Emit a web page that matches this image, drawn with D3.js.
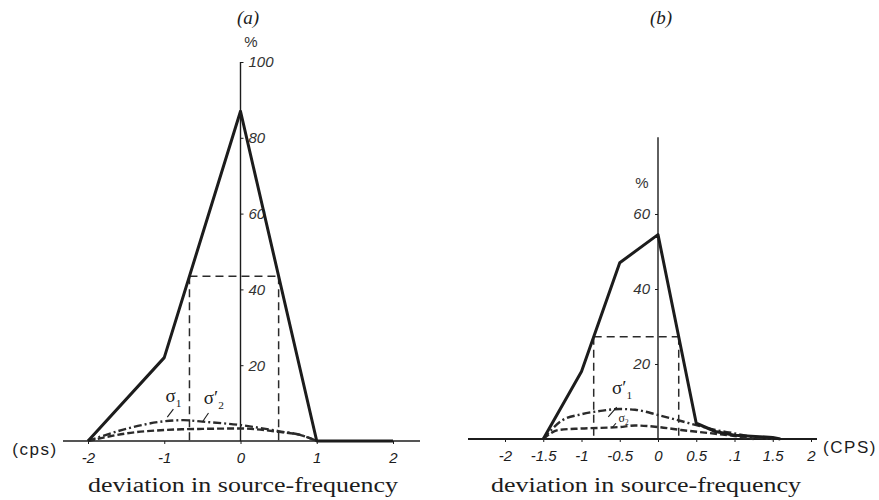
<!DOCTYPE html>
<html>
<head>
<meta charset="utf-8">
<script src="https://cdn.jsdelivr.net/npm/d3@7"></script>
<style>
  body { margin: 0; background: #fff; }
  svg { display: block; }
</style>
</head>
<body>
<svg id="chart" width="879" height="500"></svg>
<script>
// ---------- Panel (a) ----------
const mainAX = [-2, -1, 0, 1, 1.5, 2];
const mainAY = [0, 22, 87, 0, 0, 0];
const sigAX = [-2, -1.5, -1, -0.75, -0.5, 0, 0.5, 0.8, 1];
const sig1AY = [0, 3.2, 5.2, 5.5, 5.1, 4.2, 2.6, 1.5, 0];
const sig2AY = [0, 2.0, 2.9, 3.1, 3.2, 3.3, 2.4, 1.5, 0];
const tickAX = [-2, -1, 0, 1, 2];
const tickAXLabels = ["-2", "-1", "0", "1", "2"];
const tickAY = [20, 40, 60, 80, 100];

// ---------- Panel (b) ----------
const mainBX = [-1.5, -1, -0.5, 0, 0.5, 0.75, 1, 1.5, 1.6];
const mainBY = [0, 18, 47, 54.5, 4.2, 2, 1, 0.4, 0];
const sig1BX = [-1.5, -1.25, -1, -0.75, -0.5, -0.3, 0, 0.3, 0.5, 0.75, 1, 1.25, 1.5];
const sig1BY = [0, 5.0, 6.6, 7.5, 8.0, 7.8, 6.4, 4.8, 3.7, 2.4, 1.5, 0.5, 0];
const sig2BX = [-1.5, -1.3, -1, -0.5, -0.3, 0, 0.3, 0.75, 1, 1.25];
const sig2BY = [0, 2.4, 2.8, 3.2, 3.6, 3.2, 2.4, 1.4, 0.8, 0];
const tickBX = [-2, -1.5, -1, -0.5, 0, 0.5, 1, 1.5, 2];
const tickBXLabels = ["-2", "-1.5", "-1", "-0.5", "0", "0.5", ".1", "1.5", "2"];
const tickBY = [20, 40, 60];

const svg = d3.select("#chart");
const ink = "#1c1c1c";
const handFont = "'Liberation Sans', Arial, sans-serif";
const serifFont = "'Liberation Serif', 'DejaVu Serif', serif";

const zip = (xs, ys) => xs.map((x, i) => [x, ys[i]]);

// find where a polyline crosses a level
function crossings(xs, ys, level) {
  const out = [];
  for (let i = 0; i < xs.length - 1; i++) {
    const a = ys[i], b = ys[i + 1];
    if ((a - level) * (b - level) < 0) {
      const t = (level - a) / (b - a);
      out.push(xs[i] + t * (xs[i + 1] - xs[i]));
    }
  }
  return out;
}

function panel(cfg) {
  const { x, y } = cfg;
  const g = svg.append("g");

  // baseline
  g.append("line")
    .attr("x1", cfg.baseFrom).attr("x2", cfg.baseTo)
    .attr("y1", y(0)).attr("y2", y(0))
    .attr("stroke", ink).attr("stroke-width", cfg.baseWidth);

  // vertical axis
  g.append("line")
    .attr("x1", x(0)).attr("x2", x(0))
    .attr("y1", y(0)).attr("y2", y(cfg.yTop))
    .attr("stroke", ink).attr("stroke-width", 1.4);

  // x ticks and labels
  const xAxis = d3.axisBottom(x)
    .tickValues(cfg.xTicks)
    .tickFormat((d, i) => cfg.xLabels[i])
    .tickSize(3).tickPadding(8).tickSizeOuter(0);
  const gx = g.append("g").attr("transform", `translate(0,${y(0)})`).call(xAxis);
  gx.select(".domain").remove();
  gx.selectAll("line").attr("stroke", ink);
  gx.selectAll("text")
    .attr("font-family", handFont).attr("font-style", "italic")
    .attr("font-size", 15).attr("fill", ink);

  // y ticks and labels
  const yAxis = (cfg.yRight ? d3.axisRight(y) : d3.axisLeft(y))
    .tickValues(cfg.yTicks).tickSize(3).tickPadding(5).tickSizeOuter(0);
  const gy = g.append("g").attr("transform", `translate(${x(0)},0)`).call(yAxis);
  gy.select(".domain").remove();
  gy.selectAll("line").attr("stroke", ink);
  gy.selectAll("text")
    .attr("font-family", handFont).attr("font-style", "italic")
    .attr("font-size", 15).attr("fill", "#333");

  // percent sign
  g.append("text")
    .attr("x", cfg.pctX).attr("y", y(cfg.pctAt))
    .attr("text-anchor", "middle").attr("dominant-baseline", "middle")
    .attr("font-family", handFont).attr("font-size", 15).attr("fill", "#333")
    .text("%");

  // half-maximum construction lines
  const peak = d3.max(cfg.mainY);
  const half = peak / 2;
  const cx = crossings(cfg.mainX, cfg.mainY, half);
  const xl = cx[0], xr = cx[cx.length - 1];
  const dash = g.append("g").attr("stroke", "#2a2a2a").attr("stroke-width", 1.5)
    .attr("stroke-dasharray", "8,5").attr("fill", "none");
  dash.append("line").attr("x1", x(xl)).attr("x2", x(xr)).attr("y1", y(half)).attr("y2", y(half));
  dash.append("line").attr("x1", x(xl)).attr("x2", x(xl)).attr("y1", y(half)).attr("y2", y(0));
  dash.append("line").attr("x1", x(xr)).attr("x2", x(xr)).attr("y1", y(half)).attr("y2", y(0));

  // sigma curves
  const smooth = d3.line().x(d => x(d[0])).y(d => y(d[1])).curve(d3.curveMonotoneX);
  g.append("path").datum(zip(cfg.s2X, cfg.s2Y))
    .attr("d", smooth).attr("fill", "none").attr("stroke", "#2b2b2b")
    .attr("stroke-width", 2.4).attr("stroke-dasharray", "7,3");
  g.append("path").datum(zip(cfg.s1X, cfg.s1Y))
    .attr("d", smooth).attr("fill", "none").attr("stroke", "#2b2b2b")
    .attr("stroke-width", 2.4).attr("stroke-dasharray", "8,3,2,3");

  // main distribution
  const poly = d3.line().x(d => x(d[0])).y(d => y(d[1]));
  g.append("path").datum(zip(cfg.mainX, cfg.mainY))
    .attr("d", poly).attr("fill", "none").attr("stroke", ink)
    .attr("stroke-width", 3).attr("stroke-linejoin", "round");

  // sigma labels with leaders
  cfg.sigmaLabels.forEach(s => {
    g.append("line")
      .attr("x1", x(s.from[0])).attr("y1", y(s.from[1]))
      .attr("x2", x(s.to[0])).attr("y2", y(s.to[1]))
      .attr("stroke", ink).attr("stroke-width", 1.1);
    const t = g.append("text")
      .attr("x", x(s.at[0])).attr("y", y(s.at[1]))
      .attr("text-anchor", "middle")
      .attr("font-family", serifFont).attr("font-size", s.size).attr("fill", ink);
    t.append("tspan").text(s.prime ? "σ′" : "σ");
    t.append("tspan").attr("font-size", s.size * 0.6).attr("dy", s.size * 0.25).text(s.sub);
  });

  // unit label
  g.append("text")
    .attr("x", cfg.unitX).attr("y", y(0) + 14)
    .attr("text-anchor", cfg.unitAnchor)
    .attr("font-family", handFont).attr("font-size", 17).attr("letter-spacing", 1.5)
    .attr("fill", ink).text(cfg.unit);

  // panel title
  g.append("text")
    .attr("x", cfg.titleX).attr("y", 24)
    .attr("text-anchor", "middle")
    .attr("font-family", serifFont).attr("font-style", "italic").attr("font-size", 19)
    .attr("fill", ink).text(cfg.title);

  // axis caption
  g.append("text")
    .attr("x", cfg.captionX).attr("y", 492)
    .attr("text-anchor", "middle")
    .attr("font-family", serifFont).attr("font-size", 20)
    .attr("textLength", 310).attr("lengthAdjust", "spacingAndGlyphs")
    .attr("fill", ink).text("deviation in source-frequency");
}

const xA = d3.scaleLinear([-2, 2], [88, 393]);
const yA = d3.scaleLinear([0, 100], [441, 62]);
const xB = d3.scaleLinear([-2, 2], [505, 811]);
const yB = d3.scaleLinear([0, 80], [439, 139]);

panel({
  x: xA, y: yA, yTop: 100, baseFrom: 63, baseTo: 420, baseWidth: 1.6,
  xTicks: tickAX, xLabels: tickAXLabels, yTicks: tickAY, yRight: true,
  pctX: 251, pctAt: 105,
  mainX: mainAX, mainY: mainAY,
  s1X: sigAX, s1Y: sig1AY, s2X: sigAX, s2Y: sig2AY,
  sigmaLabels: [
    { at: [-0.88, 10.2], from: [-0.96, 6.3], to: [-0.88, 8.4], sub: "1", prime: false, size: 19 },
    { at: [-0.35, 9.8], from: [-0.5, 5.0], to: [-0.42, 7.4], sub: "2", prime: true, size: 19 }
  ],
  unit: "(cps)", unitX: 35, unitAnchor: "middle",
  title: "(a)", titleX: 248, captionX: 243
});

panel({
  x: xB, y: yB, yTop: 80.5, baseFrom: 468, baseTo: 817, baseWidth: 2.2,
  xTicks: tickBX, xLabels: tickBXLabels, yTicks: tickBY, yRight: false,
  pctX: 642, pctAt: 68,
  mainX: mainBX, mainY: mainBY,
  s1X: sig1BX, s1Y: sig1BY, s2X: sig2BX, s2Y: sig2BY,
  sigmaLabels: [
    { at: [-0.47, 12.0], from: [-0.65, 5.9], to: [-0.54, 8.5], sub: "1", prime: true, size: 19 },
    { at: [-0.45, 4.6], from: [-0.6, 3.0], to: [-0.55, 4.2], sub: "2", prime: false, size: 12 }
  ],
  unit: "(CPS)", unitX: 850, unitAnchor: "middle",
  title: "(b)", titleX: 661, captionX: 646
});
</script>
</body>
</html>
